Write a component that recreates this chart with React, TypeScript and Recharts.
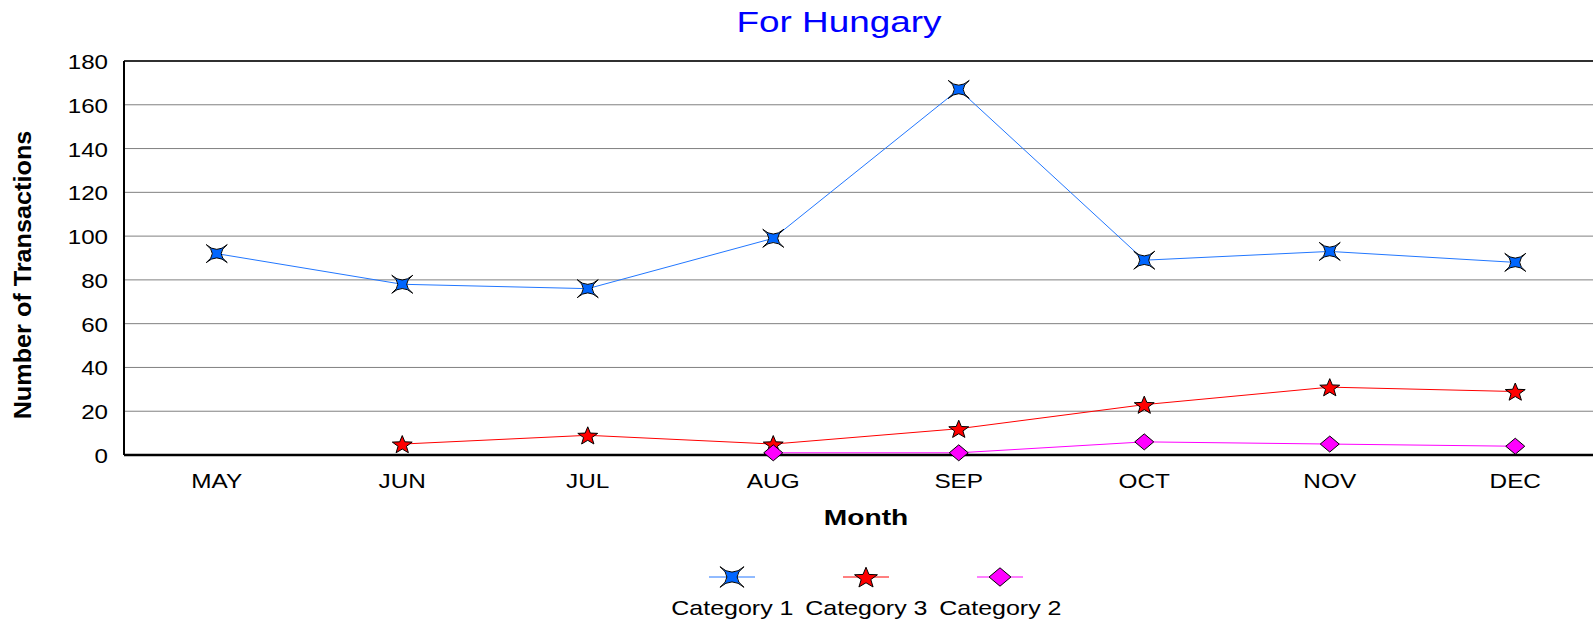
import React from "react";
import {
  LineChart,
  Line,
  XAxis,
  YAxis,
  CartesianGrid,
  ReferenceLine,
} from "recharts";

const months = ["MAY", "JUN", "JUL", "AUG", "SEP", "OCT", "NOV", "DEC"];
const category1 = [92, 78, 76, 99, 167, 89, 93, 88];
const category3 = [null, 5, 9, 5, 12, 23, 31, 29];
const category2 = [null, null, null, 1, 1, 6, 5, 4];
const yTicks = [0, 20, 40, 60, 80, 100, 120, 140, 160, 180];

const FONT = '"Liberation Sans", Arial, sans-serif';

const data = months.map((month, i) => ({
  month,
  cat1: category1[i],
  cat3: category3[i],
  cat2: category2[i],
}));

// the source text is drawn wide, so stretch it sideways a little
const XTick = (props: any) => {
  const { x, y, payload } = props;
  return (
    <text
      transform={`translate(${x},${y}) scale(1.16,1)`}
      dy={33}
      textAnchor="middle"
      fontFamily={FONT}
      fontSize={21}
      fill="#000"
    >
      {payload.value}
    </text>
  );
};

const YTick = (props: any) => {
  const { x, y, payload } = props;
  return (
    <text
      transform={`translate(${x},${y}) scale(1.15,1)`}
      dy={8}
      textAnchor="end"
      fontFamily={FONT}
      fontSize={21}
      fill="#000"
    >
      {payload.value}
    </text>
  );
};

const XTitle = (props: any) => {
  const { x, y, width } = props.viewBox;
  return (
    <text
      transform={`translate(${x + width / 2},${y + 70}) scale(1.28,1)`}
      textAnchor="middle"
      fontFamily={FONT}
      fontWeight="bold"
      fontSize={22}
      fill="#000"
    >
      Month
    </text>
  );
};

const YTitle = (props: any) => {
  const { y, height } = props.viewBox;
  return (
    <text
      transform={`translate(31,${y + height / 2 + 17}) rotate(-90) scale(1.03,1)`}
      textAnchor="middle"
      fontFamily={FONT}
      fontWeight="bold"
      fontSize={24.5}
      fill="#000"
    >
      Number of Transactions
    </text>
  );
};

type MarkProps = { cx: number; cy: number; k?: number };

// X-shaped four pointed star: tips on the diagonals, pinched sides
const FourStar = ({ cx, cy, k = 1 }: MarkProps) => {
  const w = 10.5 * k;
  const h = 9 * k;
  const d = [
    `M${cx - w},${cy - h}`,
    `Q${cx},${cy + 0.05 * h} ${cx + w},${cy - h}`,
    `Q${cx - 0.15 * w},${cy} ${cx + w},${cy + h}`,
    `Q${cx},${cy - 0.05 * h} ${cx - w},${cy + h}`,
    `Q${cx + 0.15 * w},${cy} ${cx - w},${cy - h}`,
    "Z",
  ].join(" ");
  return <path d={d} fill="#0066ff" stroke="#000" strokeWidth={1} strokeLinejoin="miter" />;
};

const FiveStar = ({ cx, cy, k = 1 }: MarkProps) => {
  const pts: string[] = [];
  for (let i = 0; i < 10; i++) {
    const r = (i % 2 === 0 ? 9.5 : 4) * k;
    const a = -Math.PI / 2 + (i * Math.PI) / 5;
    pts.push(`${cx + r * 1.1 * Math.cos(a)},${cy + k + r * Math.sin(a)}`);
  }
  return <polygon points={pts.join(" ")} fill="#ff0000" stroke="#000" strokeWidth={1} />;
};

const Diamond = ({ cx, cy, k = 1 }: MarkProps) => (
  <polygon
    points={`${cx - 9.5 * k},${cy} ${cx},${cy - 8 * k} ${cx + 9.5 * k},${cy} ${cx},${cy + 8 * k}`}
    fill="#ff00ff"
    stroke="#000"
    strokeWidth={1}
  />
);

const dotWith = (Shape: any) => (props: any) => {
  const { cx, cy, index } = props;
  if (cx == null || cy == null || props.value == null) return <g key={index} />;
  return <Shape key={index} cx={cx} cy={cy} />;
};

const series = [
  { name: "Category 1", line: "#2277ff", Shape: FourStar },
  { name: "Category 3", line: "#ff0000", Shape: FiveStar },
  { name: "Category 2", line: "#ff00ff", Shape: Diamond },
];

export default function App() {
  return (
    <div
      style={{
        position: "absolute",
        left: 0,
        top: 0,
        width: 1593,
        height: 623,
        overflow: "hidden",
        background: "#fff",
      }}
    >
      <LineChart
        width={1620}
        height={623}
        data={data}
        margin={{ top: 61, right: 12, bottom: 108, left: 0 }}
      >
        <text
          transform="translate(839,32) scale(1.23,1)"
          textAnchor="middle"
          fontFamily={FONT}
          fontSize={30}
          fill="#0000ff"
        >
          For Hungary
        </text>
        <CartesianGrid vertical={false} stroke="#808080" strokeWidth={1} />
        <ReferenceLine y={180} stroke="#000" strokeWidth={1.5} />
        <XAxis
          dataKey="month"
          padding={{ left: 92.75, right: 92.75 }}
          axisLine={{ stroke: "#000", strokeWidth: 2.5 }}
          tickLine={false}
          tickSize={0}
          tickMargin={0}
          height={60}
          interval={0}
          tick={XTick}
          label={{ content: XTitle }}
        />
        <YAxis
          width={124}
          domain={[0, 180]}
          ticks={yTicks}
          axisLine={{ stroke: "#000", strokeWidth: 2 }}
          tickLine={false}
          tickSize={0}
          tickMargin={16}
          tick={YTick}
          label={{ content: YTitle }}
        />
        <Line
          dataKey="cat1"
          stroke="#2277ff"
          strokeWidth={1}
          dot={dotWith(FourStar)}
          activeDot={false}
          isAnimationActive={false}
        />
        <Line
          dataKey="cat3"
          stroke="#ff0000"
          strokeWidth={1}
          dot={dotWith(FiveStar)}
          activeDot={false}
          isAnimationActive={false}
        />
        <Line
          dataKey="cat2"
          stroke="#ff00ff"
          strokeWidth={1}
          dot={dotWith(Diamond)}
          activeDot={false}
          isAnimationActive={false}
        />
      </LineChart>
      <div
        style={{
          position: "absolute",
          left: 124,
          width: 1484,
          top: 566,
          display: "flex",
          justifyContent: "center",
          fontFamily: FONT,
        }}
      >
        {series.map((s) => (
          <div
            key={s.name}
            style={{ width: 134, display: "flex", flexDirection: "column", alignItems: "center" }}
          >
            <svg width={46} height={22}>
              <line x1={0} y1={11} x2={46} y2={11} stroke={s.line} strokeWidth={1} />
              <s.Shape cx={23} cy={11} k={1.15} />
            </svg>
            <span
              style={{
                marginTop: 8,
                fontSize: 21,
                lineHeight: "24px",
                display: "inline-block",
                transform: "scaleX(1.19)",
                whiteSpace: "nowrap",
                color: "#000",
              }}
            >
              {s.name}
            </span>
          </div>
        ))}
      </div>
    </div>
  );
}
